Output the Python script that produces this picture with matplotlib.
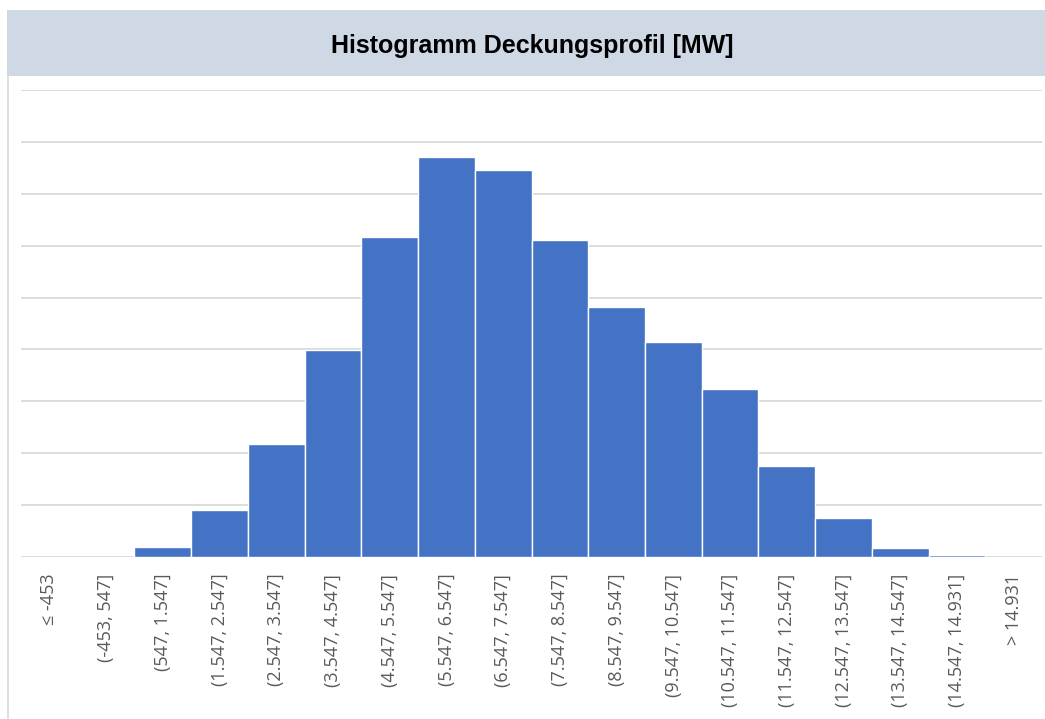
import numpy as np
import matplotlib.pyplot as plt
from matplotlib.patches import Rectangle
from matplotlib.lines import Line2D

# histogram classes and counts
bins = ['≤ -453', '(-453, 547]', '(547, 1.547]', '(1.547, 2.547]', '(2.547, 3.547]',
        '(3.547, 4.547]', '(4.547, 5.547]', '(5.547, 6.547]', '(6.547, 7.547]',
        '(7.547, 8.547]', '(8.547, 9.547]', '(9.547, 10.547]', '(10.547, 11.547]',
        '(11.547, 12.547]', '(12.547, 13.547]', '(13.547, 14.547]', '(14.547, 14.931]',
        '> 14.931']
counts = [0, 0, 19, 90, 218, 398, 617, 770, 746, 610, 481, 414, 324, 175, 75, 17, 3, 0]
grid_steps = [0, 100, 200, 300, 400, 500, 600, 700, 800, 900]

fig = plt.figure(figsize=(10.45, 7.19), dpi=100)

# header band with title
fig.patches.append(Rectangle((7 / 1045, 1 - 76 / 719), 1 - 7 / 1045, 66 / 719,
                             transform=fig.transFigure, facecolor='#CFD9E5',
                             edgecolor='none', zorder=0))
fig.lines.append(Line2D([7.5 / 1045, 7.5 / 1045], [0, 1 - 76 / 719],
                        transform=fig.transFigure, color='#D9D9D9', lw=1.2))
fig.text(532 / 1045, 1 - 46 / 719, 'Histogramm Deckungsprofil [MW]', ha='center', va='center',
         fontsize=18, fontweight='bold', family='Liberation Sans', color='black')

ax = fig.add_axes([21 / 1045, 1 - 557 / 719, (1042 - 21) / 1045, (557 - 90) / 719])
x = np.arange(len(bins))
ax.bar(x, counts, width=1.0, color='#4472C4', edgecolor='white',
       linewidth=[0 if c == 0 else 1.0 for c in counts], zorder=3)

ax.set_xlim(-0.5, len(bins) - 0.5)
ax.set_ylim(0, 900)
ax.set_yticks(grid_steps)
ax.yaxis.grid(True, color='#D9D9D9', lw=1.3, zorder=0)
ax.tick_params(axis='y', length=0, labelleft=False)
ax.set_xticks(x)
ax.set_xticklabels(bins, rotation=90, fontsize=13, family='Open Sans', color='#595959')
ax.tick_params(axis='x', length=0, pad=12)
for s in ax.spines.values():
    s.set_visible(False)

fig.savefig('out.png', dpi=100)
